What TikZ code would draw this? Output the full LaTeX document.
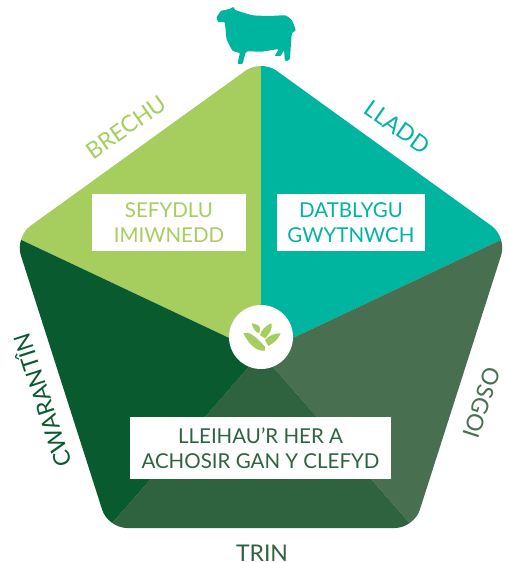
\documentclass[tikz,border=0pt]{standalone}
\usepackage{fontspec}
\setmainfont{Lato}
\definecolor{cLight}{HTML}{A6CE5E}
\definecolor{cTeal}{HTML}{00B5A0}
\definecolor{cDark}{HTML}{0A5A30}
\definecolor{cTrin}{HTML}{2F6340}
\definecolor{cOsgoi}{HTML}{476F50}
\tikzset{
  box/.style={fill=white,inner sep=0pt,align=center,font=\fontsize{20.5}{25.5}\selectfont},
  side/.style={inner sep=0pt,font=\fontsize{23}{26}\selectfont},
}
\begin{document}
\begin{tikzpicture}[x=1pt,y=-1pt]
\useasboundingbox (0,0) rectangle (508,563);
\coordinate (c) at (261,353);
\coordinate (vt) at (261,59.5);
\coordinate (vr) at (507,237);
\coordinate (vbr) at (414,528);
\coordinate (vbl) at (108,528);
\coordinate (vl) at (15,237);
\begin{scope}
\clip[rounded corners=19pt] (vt) -- (vr) -- (vbr) -- (vbl) -- (vl) -- cycle;
\fill[cLight] (c) -- (vl) -- (0,59) -- (vt) -- cycle;
\fill[cTeal] (c) -- (vt) -- (508,59) -- (vr) -- cycle;
\fill[cOsgoi] (c) -- (vr) -- (508,563) -- (vbr) -- cycle;
\fill[cTrin] (c) -- (vbr) -- (vbl) -- cycle;
\fill[cDark] (c) -- (vbl) -- (0,563) -- (vl) -- cycle;
\end{scope}
% sheep
\fill[cTeal,shift={(190,0)},x=0.3333pt,y=-0.3333pt] plot[smooth cycle,tension=.3] coordinates {
(80,52)(93,33)(118,27)(130,21)(136,30)(160,38)(190,46)(240,48)(285,46)(305,60)(317,90)(306,100)(303,130)(299,178)(285,182)(282,152)(272,167)(255,167)(264,148)(215,155)(172,154)(166,160)(158,190)(143,190)(149,160)(128,152)(110,118)(104,68)(85,66)};
% boxes
\node[box,text=cLight,minimum width=154pt,minimum height=57pt] (sef) at (169,222.5) {SEFYDLU\\IMIWNEDD};
\node[box,text=cTeal,minimum width=148pt,minimum height=57pt] (dat) at (351,222.5) {DATBLYGU\\GWYTNWCH};
\node[box,text=cTrin,minimum width=261pt,minimum height=62pt] (lle) at (260.5,448) {LLEIHAU’R HER A\\ACHOSIR GAN Y CLEFYD};
% labels
\node[side,text=cLight,rotate=35] (bre) at (126,127) {BRECHU};
\node[side,text=cTeal,rotate=-35] (lla) at (397.5,127) {LLADD};
\node[side,text=cOsgoi,rotate=-108] (osg) at (482,403) {OSGOI};
\node[side,text=cDark,rotate=108] (cwa) at (41,401) {CWARANTÎN};
\node[side,text=cTrin] (tri) at (262,553) {TRIN};
% logo
\node[circle,fill=white,minimum size=64pt,inner sep=0pt] (logo) at (261,337) {};
\begin{scope}[shift={(200,290)},x=0.3333pt,y=-0.3333pt]
\fill[cLight] (155,100) .. controls (170,102) and (180,108) .. (180,114) -- (178,130) .. controls (168,128) and (158,115) .. (155,100) -- cycle;
\fill[cLight] (215,100) .. controls (218,115) and (210,130) .. (195,145) -- (180,135) .. controls (185,118) and (200,105) .. (215,100) -- cycle;
\fill[cLight] (242,130) .. controls (235,148) and (220,160) .. (205,168) -- (195,150) .. controls (208,135) and (225,130) .. (242,130) -- cycle;
\fill[cLight] (130,130) .. controls (145,125) and (158,130) .. (195,170) -- (195,182) .. controls (175,185) and (150,170) .. (130,130) -- cycle;
\end{scope}
\end{tikzpicture}
\end{document}
